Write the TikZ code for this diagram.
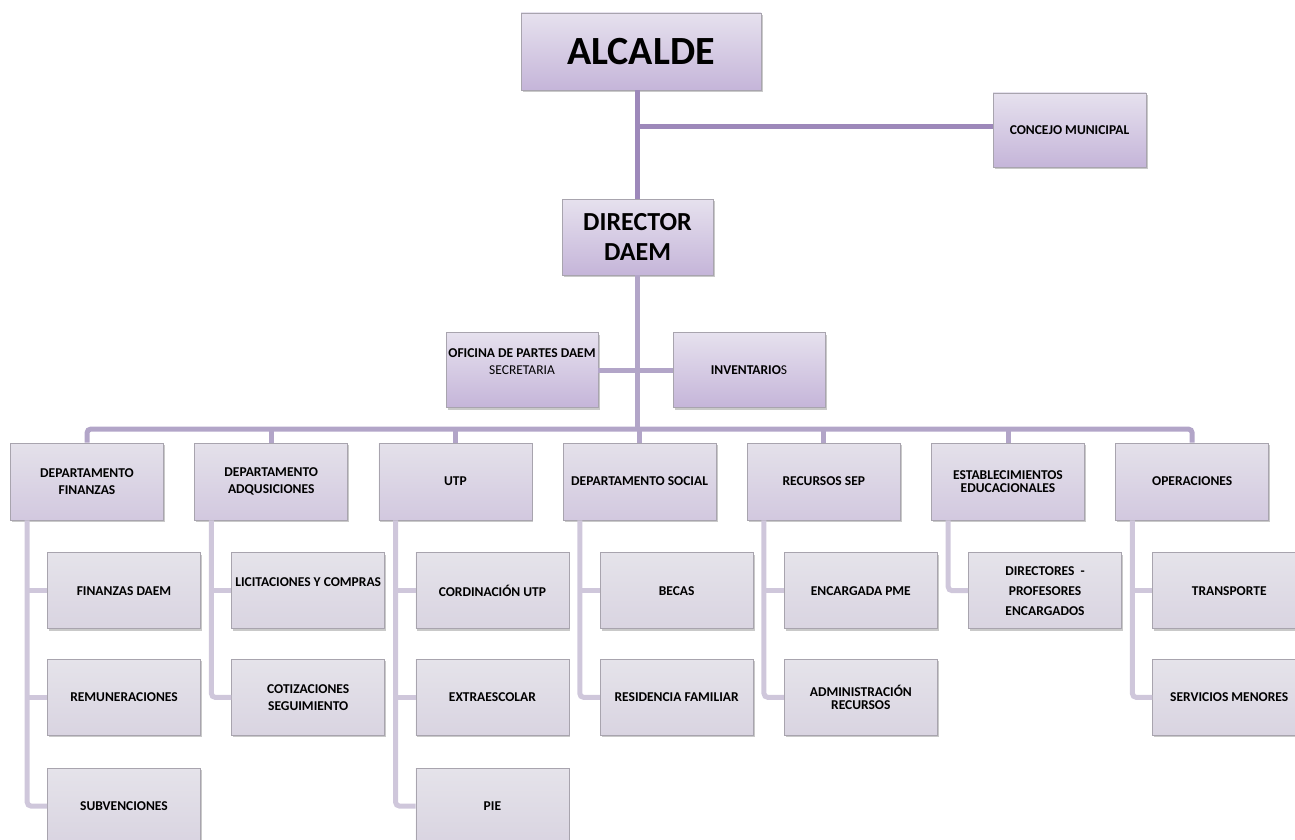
\documentclass[tikz,border=0pt]{standalone}
\usepackage{fontspec}
\setmainfont{Carlito}
\usetikzlibrary{positioning,shadows,calc}
\definecolor{HeadTop}{HTML}{E6E1EE}
\definecolor{HeadBottom}{HTML}{C5B5D9}
\definecolor{DeptTop}{HTML}{E4E1EA}
\definecolor{DeptBottom}{HTML}{D2C8DF}
\definecolor{UnitTop}{HTML}{E5E3EA}
\definecolor{UnitBottom}{HTML}{D9D4E1}
\definecolor{BoxEdge}{HTML}{A8A4AE}
\definecolor{TrunkColor}{HTML}{9D88BA}
\definecolor{BusColor}{HTML}{B2A5C8}
\definecolor{SideColor}{HTML}{CFC7DB}

\begin{document}
\begin{tikzpicture}[x=1pt,y=-1pt,node distance=30.5pt,
  box/.style={draw=BoxEdge,line width=0.7pt,align=center,inner sep=2pt,
    font=\fontsize{13.5}{16.5}\selectfont\bfseries,
    drop shadow={shadow xshift=1.5pt,shadow yshift=-2pt,opacity=.3,fill=black!70}},
  headbox/.style={box,top color=HeadTop,bottom color=HeadBottom},
  deptbox/.style={box,top color=DeptTop,bottom color=DeptBottom,minimum width=153pt,minimum height=77pt},
  unitbox/.style={box,top color=UnitTop,bottom color=UnitBottom,minimum width=153pt,minimum height=76pt},
  link/.style={line width=5pt,BusColor},
  sublink/.style={line width=5pt,SideColor}]
  \useasboundingbox (0,0) rectangle (1295,840);

  % top of the chart
  \node[headbox,minimum width=240pt,minimum height=77pt,font=\fontsize{40}{44}\selectfont\bfseries] (alc) at (641,51.5) {ALCALDE};
  \node[headbox,minimum width=151pt,minimum height=76pt,font=\fontsize{26}{30}\selectfont\bfseries] (dir) at (637.5,237) {DIRECTOR\\DAEM};
  \node[headbox,minimum width=153pt,minimum height=74pt] (con) at (1069.5,130) {CONCEJO MUNICIPAL};
  \node[headbox,minimum width=152pt,minimum height=75pt] (ofi) at (522,370) {OFICINA DE PARTES DAEM\\\mdseries SECRETARIA\\~};
  \node[headbox,minimum width=152pt,minimum height=75pt] (inv) at (749,370) {INVENTARIO\mdseries S};

  \draw[TrunkColor,line width=5pt] (dir.north |- alc.south) -- (dir.north);
  \draw[TrunkColor,line width=5pt] ($(con.west -| dir.north)+(0,-3)$) -- ($(con.west)+(0,-3)$);
  \draw[link] (ofi.east) -- (inv.west);

  % departments
  \node[deptbox] (fin) at (87,481.5) {DEPARTAMENTO\\FINANZAS};
  \node[deptbox,right=of fin] (adq) {DEPARTAMENTO\\ADQUSICIONES};
  \node[deptbox,right=of adq] (utp) {UTP};
  \node[deptbox,right=of utp] (soc) {DEPARTAMENTO SOCIAL};
  \node[deptbox,right=of soc] (sep) {RECURSOS SEP};
  \node[deptbox,right=of sep] (est) {ESTABLECIMIENTOS\\[-3pt]EDUCACIONALES};
  \node[deptbox,right=of est] (ops) {OPERACIONES};

  \coordinate (bus) at (dir.south |- 0,429);
  \draw[link] (dir.south) -- (bus);
  \draw[link,rounded corners=4pt] (fin.north) |- (bus) -| (ops.north);
  \foreach \d in {adq,utp,soc,sep,est}
    \draw[link] (\d.north) -- (\d.north |- bus);

  % units under each department
  \node[unitbox,below right=32pt and 37pt of fin.south west] (fin1) {FINANZAS DAEM};
  \node[unitbox,below=30pt of fin1] (fin2) {REMUNERACIONES};
  \node[unitbox,below=32pt of fin2] (fin3) {SUBVENCIONES};

  \node[unitbox,below right=32pt and 37pt of adq.south west] (adq1) {LICITACIONES Y COMPRAS\\~};
  \node[unitbox,below=30pt of adq1] (adq2) {COTIZACIONES\\SEGUIMIENTO};

  \node[unitbox,below right=32pt and 37pt of utp.south west] (utp1) {CORDINACIÓN UTP};
  \node[unitbox,below=30pt of utp1] (utp2) {EXTRAESCOLAR};
  \node[unitbox,below=32pt of utp2] (utp3) {PIE};

  \node[unitbox,below right=32pt and 37pt of soc.south west] (soc1) {BECAS};
  \node[unitbox,below=30pt of soc1] (soc2) {RESIDENCIA FAMILIAR};

  \node[unitbox,below right=32pt and 37pt of sep.south west] (sep1) {ENCARGADA PME};
  \node[unitbox,below=30pt of sep1] (sep2) {ADMINISTRACIÓN\\[-3pt]RECURSOS};

  \node[unitbox,below right=32pt and 37pt of est.south west,font=\fontsize{13.5}{20}\selectfont\bfseries] (est1) {DIRECTORES~~-\\PROFESORES\\ENCARGADOS};

  \node[unitbox,below right=32pt and 37pt of ops.south west] (ops1) {TRANSPORTE};
  \node[unitbox,below=30pt of ops1] (ops2) {SERVICIOS MENORES};

  \foreach \d/\last/\others in {fin/fin3/{fin1,fin2},adq/adq2/{adq1},utp/utp3/{utp1,utp2},
      soc/soc2/{soc1},sep/sep2/{sep1},est/est1/{},ops/ops2/{ops1}}{
    \coordinate (\d side) at ([xshift=17pt]\d.south west);
    \draw[sublink,rounded corners=4pt] (\d side) |- (\last.west);
    \foreach \u in \others
      \draw[sublink] (\u.west) -- (\u.west -| \d side);
  }
\end{tikzpicture}
\end{document}
